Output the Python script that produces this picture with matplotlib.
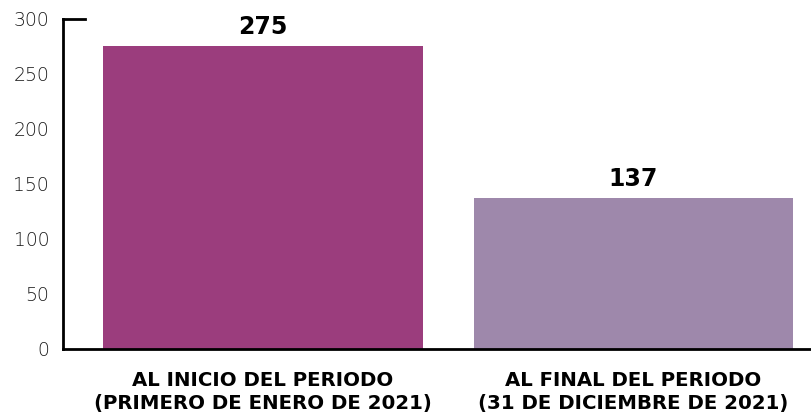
import matplotlib.pyplot as plt

# === DATOS ===
categorias = ["AL INICIO DEL PERIODO\n(PRIMERO DE ENERO DE 2021)",
              "AL FINAL DEL PERIODO\n(31 DE DICIEMBRE DE 2021)"]
valores = [275, 137]
colores = ["#9B3D7D", "#9E88AB"]
yticks = [0, 50, 100, 150, 200, 250, 300]

plt.rcParams['font.family'] = ['DejaVu Sans']

fig = plt.figure(figsize=(8.11, 4.13), dpi=100)
ax = fig.add_axes([0.0777, 0.155, 0.9223, 0.799])

x = list(range(len(valores)))
bars = ax.bar(x, valores, width=0.862, color=colores)

for xi, v in zip(x, valores):
    ax.text(xi, v + 7, str(v), ha="center", va="bottom",
            fontsize=17, fontweight="bold", color="black")

ax.set_xlim(-0.54, 1.48)
ax.set_ylim(0, 300)
ax.set_yticks(yticks)
ax.set_xticks(x)
ax.set_xticklabels(categorias, fontsize=14.2, fontweight="bold", linespacing=1.25)
ax.tick_params(axis="y", length=0, pad=10, labelsize=13.5, labelcolor="#1a1a1a")
for t in ax.get_yticklabels():
    t.set_fontweight("light")
ax.tick_params(axis="x", length=0, pad=16)

for s in ["top", "right"]:
    ax.spines[s].set_visible(False)
for s in ["left", "bottom"]:
    ax.spines[s].set_linewidth(2)
    ax.spines[s].set_color("black")

# pequeño remate superior del eje
ax.plot([-0.54, -0.48], [300, 300], color="black", lw=2, clip_on=False,
        solid_capstyle="projecting")

fig.savefig("out.png", dpi=100)
